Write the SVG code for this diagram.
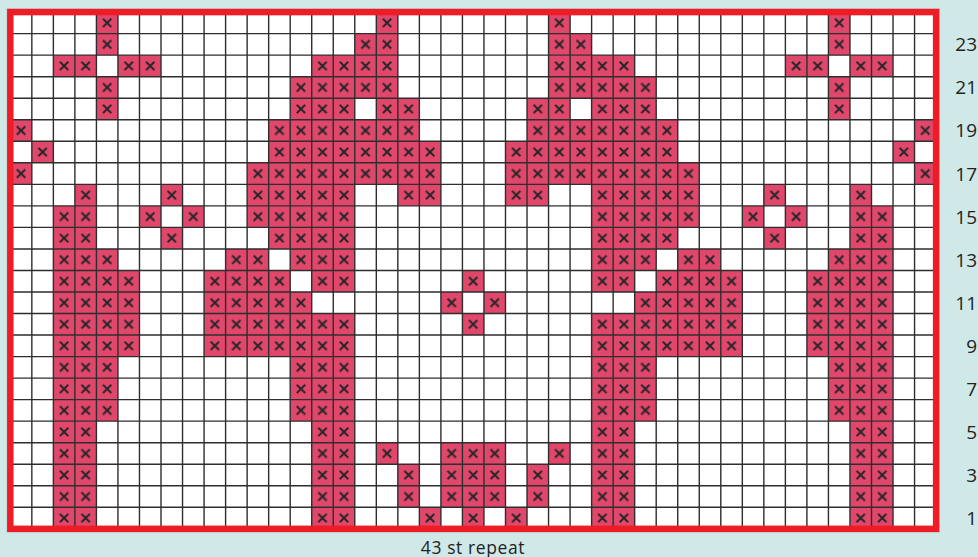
<svg xmlns="http://www.w3.org/2000/svg" xmlns:xlink="http://www.w3.org/1999/xlink" width="978" height="557" viewBox="0 0 978 557">
<style>
.lbl{font-family:"Open Sans","Liberation Sans",sans-serif;font-size:19px;fill:#231f20;text-anchor:end}
.cap{font-family:"Open Sans","Liberation Sans",sans-serif;font-size:17.5px;letter-spacing:0.6px;fill:#231f20;text-anchor:middle}
.grid{fill:none;stroke:#2e2e2e;stroke-width:0.065}
.st{fill:url(#st)}
</style>
<defs>
<pattern id="st" patternUnits="userSpaceOnUse" width="1" height="1">
<rect width="1" height="1" fill="#E0476B"/>
<path d="M0.305 0.305L0.695 0.695M0.695 0.305L0.305 0.695" stroke="#262626" stroke-width="0.09" fill="none"/>
</pattern>
</defs>
<rect width="978" height="557" fill="#CFE8E8"/>
<g id="chart" transform="translate(10.3,12.1) scale(21.53)">
<rect x="0" y="0" width="43" height="24" fill="#ffffff"/>
<g id="stitches" class="st">
<rect x="4" y="0" width="1" height="1"/><rect x="17" y="0" width="1" height="1"/><rect x="25" y="0" width="1" height="1"/><rect x="38" y="0" width="1" height="1"/>
<rect x="4" y="1" width="1" height="1"/><rect x="16" y="1" width="2" height="1"/><rect x="25" y="1" width="2" height="1"/><rect x="38" y="1" width="1" height="1"/>
<rect x="2" y="2" width="2" height="1"/><rect x="5" y="2" width="2" height="1"/><rect x="14" y="2" width="4" height="1"/><rect x="25" y="2" width="4" height="1"/><rect x="36" y="2" width="2" height="1"/><rect x="39" y="2" width="2" height="1"/>
<rect x="4" y="3" width="1" height="1"/><rect x="13" y="3" width="5" height="1"/><rect x="25" y="3" width="5" height="1"/><rect x="38" y="3" width="1" height="1"/>
<rect x="4" y="4" width="1" height="1"/><rect x="13" y="4" width="3" height="1"/><rect x="17" y="4" width="2" height="1"/><rect x="24" y="4" width="2" height="1"/><rect x="27" y="4" width="3" height="1"/><rect x="38" y="4" width="1" height="1"/>
<rect x="0" y="5" width="1" height="1"/><rect x="12" y="5" width="7" height="1"/><rect x="24" y="5" width="7" height="1"/><rect x="42" y="5" width="1" height="1"/>
<rect x="1" y="6" width="1" height="1"/><rect x="12" y="6" width="8" height="1"/><rect x="23" y="6" width="8" height="1"/><rect x="41" y="6" width="1" height="1"/>
<rect x="0" y="7" width="1" height="1"/><rect x="11" y="7" width="9" height="1"/><rect x="23" y="7" width="9" height="1"/><rect x="42" y="7" width="1" height="1"/>
<rect x="3" y="8" width="1" height="1"/><rect x="7" y="8" width="1" height="1"/><rect x="11" y="8" width="5" height="1"/><rect x="18" y="8" width="2" height="1"/><rect x="23" y="8" width="2" height="1"/><rect x="27" y="8" width="5" height="1"/><rect x="35" y="8" width="1" height="1"/><rect x="39" y="8" width="1" height="1"/>
<rect x="2" y="9" width="2" height="1"/><rect x="6" y="9" width="1" height="1"/><rect x="8" y="9" width="1" height="1"/><rect x="11" y="9" width="5" height="1"/><rect x="27" y="9" width="5" height="1"/><rect x="34" y="9" width="1" height="1"/><rect x="36" y="9" width="1" height="1"/><rect x="39" y="9" width="2" height="1"/>
<rect x="2" y="10" width="2" height="1"/><rect x="7" y="10" width="1" height="1"/><rect x="12" y="10" width="4" height="1"/><rect x="27" y="10" width="4" height="1"/><rect x="35" y="10" width="1" height="1"/><rect x="39" y="10" width="2" height="1"/>
<rect x="2" y="11" width="3" height="1"/><rect x="10" y="11" width="2" height="1"/><rect x="13" y="11" width="3" height="1"/><rect x="27" y="11" width="3" height="1"/><rect x="31" y="11" width="2" height="1"/><rect x="38" y="11" width="3" height="1"/>
<rect x="2" y="12" width="4" height="1"/><rect x="9" y="12" width="4" height="1"/><rect x="14" y="12" width="2" height="1"/><rect x="21" y="12" width="1" height="1"/><rect x="27" y="12" width="2" height="1"/><rect x="30" y="12" width="4" height="1"/><rect x="37" y="12" width="4" height="1"/>
<rect x="2" y="13" width="4" height="1"/><rect x="9" y="13" width="5" height="1"/><rect x="20" y="13" width="1" height="1"/><rect x="22" y="13" width="1" height="1"/><rect x="29" y="13" width="5" height="1"/><rect x="37" y="13" width="4" height="1"/>
<rect x="2" y="14" width="4" height="1"/><rect x="9" y="14" width="7" height="1"/><rect x="21" y="14" width="1" height="1"/><rect x="27" y="14" width="7" height="1"/><rect x="37" y="14" width="4" height="1"/>
<rect x="2" y="15" width="4" height="1"/><rect x="9" y="15" width="7" height="1"/><rect x="27" y="15" width="7" height="1"/><rect x="37" y="15" width="4" height="1"/>
<rect x="2" y="16" width="3" height="3"/><rect x="13" y="16" width="3" height="3"/><rect x="27" y="16" width="3" height="3"/><rect x="38" y="16" width="3" height="3"/>
<rect x="2" y="19" width="2" height="5"/><rect x="14" y="19" width="2" height="5"/><rect x="27" y="19" width="2" height="5"/><rect x="39" y="19" width="2" height="5"/>
<rect x="17" y="20" width="1" height="1"/><rect x="20" y="20" width="3" height="1"/><rect x="25" y="20" width="1" height="1"/>
<rect x="18" y="21" width="1" height="2"/><rect x="20" y="21" width="3" height="2"/><rect x="24" y="21" width="1" height="2"/>
<rect x="19" y="23" width="1" height="1"/><rect x="21" y="23" width="1" height="1"/><rect x="23" y="23" width="1" height="1"/>
</g>
<path class="grid" d="M1 0V24M2 0V24M3 0V24M4 0V24M5 0V24M6 0V24M7 0V24M8 0V24M9 0V24M10 0V24M11 0V24M12 0V24M13 0V24M14 0V24M15 0V24M16 0V24M17 0V24M18 0V24M19 0V24M20 0V24M21 0V24M22 0V24M23 0V24M24 0V24M25 0V24M26 0V24M27 0V24M28 0V24M29 0V24M30 0V24M31 0V24M32 0V24M33 0V24M34 0V24M35 0V24M36 0V24M37 0V24M38 0V24M39 0V24M40 0V24M41 0V24M42 0V24M0 1H43M0 2H43M0 3H43M0 4H43M0 5H43M0 6H43M0 7H43M0 8H43M0 9H43M0 10H43M0 11H43M0 12H43M0 13H43M0 14H43M0 15H43M0 16H43M0 17H43M0 18H43M0 19H43M0 20H43M0 21H43M0 22H43M0 23H43"/>
<rect x="-0.165" y="-0.165" width="43.33" height="24.33" fill="none" stroke="#c4cccc" stroke-width="0.04"/>
<rect x="0" y="0" width="43" height="24" fill="none" stroke="#EE1D25" stroke-width="0.3"/>
</g>
<g id="row-labels" class="lbl">
<text x="977" y="51.3">23</text>
<text x="977" y="94.4">21</text>
<text x="977" y="137.4">19</text>
<text x="977" y="180.5">17</text>
<text x="977" y="223.6">15</text>
<text x="977" y="266.6">13</text>
<text x="977" y="309.7">11</text>
<text x="977" y="352.7">9</text>
<text x="977" y="395.8">7</text>
<text x="977" y="438.9">5</text>
<text x="977" y="481.9">3</text>
<text x="977" y="525">1</text>
</g>
<text class="cap" x="473" y="553.5">43 st repeat</text>
</svg>
